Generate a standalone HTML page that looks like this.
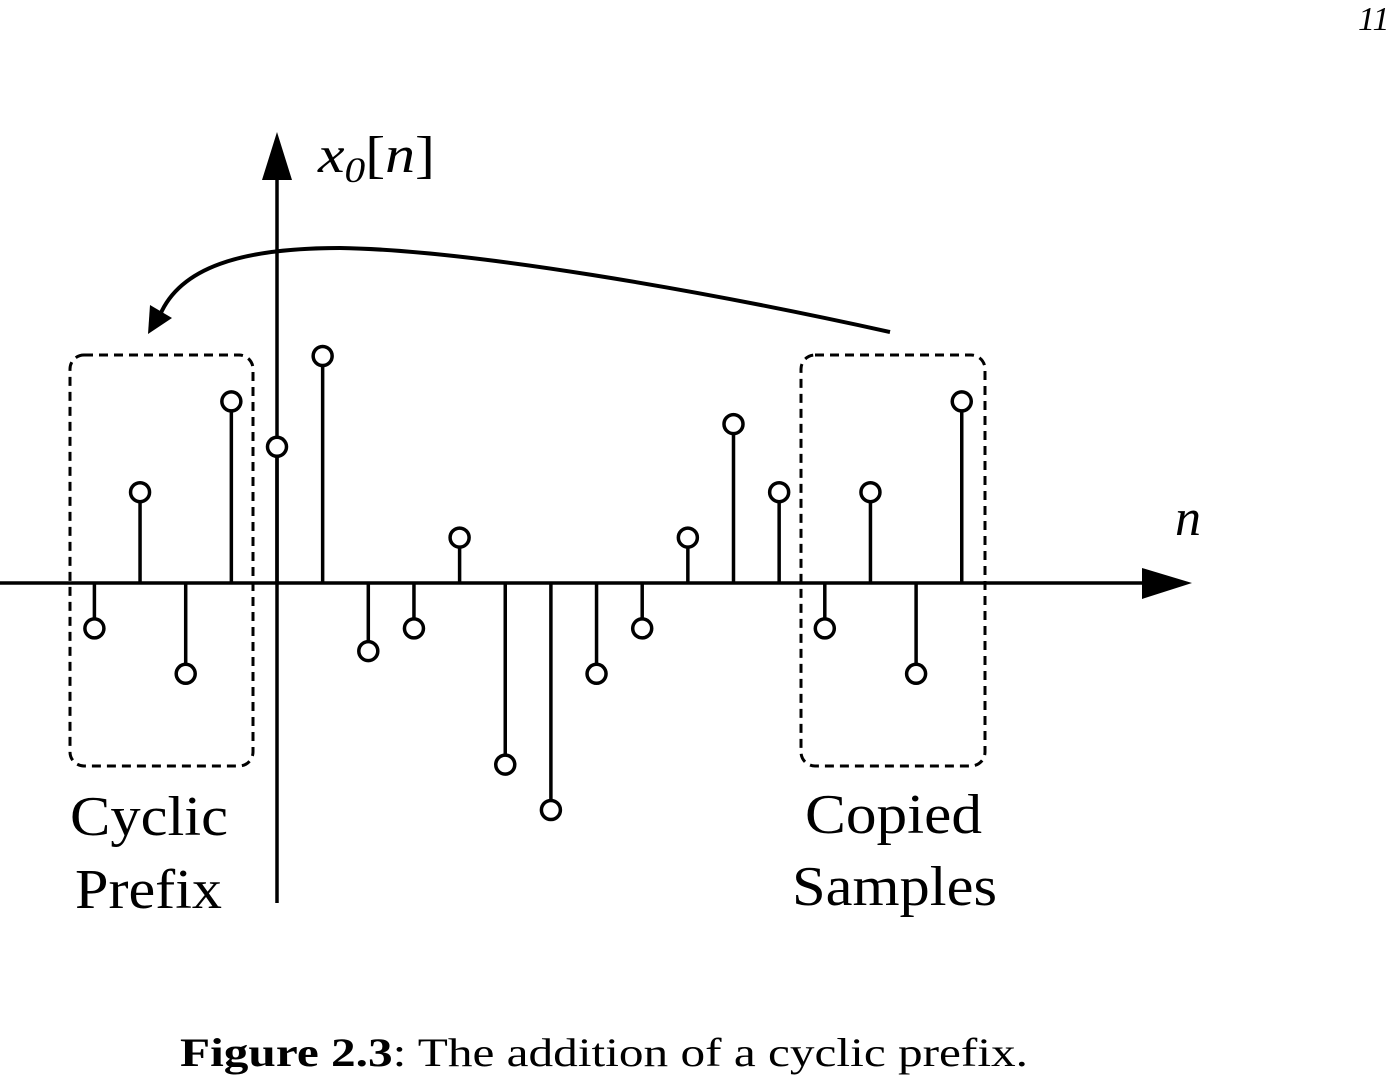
<!DOCTYPE html>
<html><head><meta charset="utf-8"><style>
html,body{margin:0;padding:0;background:#fff;}
svg{display:block;}
text{font-family:"Liberation Serif",serif;fill:#000;}
</style></head><body>
<svg width="1396" height="1076" viewBox="0 0 1396 1076">
<text x="1358" y="30" font-size="34" font-style="italic">11</text>
<g id="axes">
<line x1="0" y1="583" x2="1150" y2="583" stroke="#000" stroke-width="3.5"/>
<polygon points="1142,568 1192,583 1142,599" fill="#000"/>
<line x1="277" y1="175" x2="277" y2="903" stroke="#000" stroke-width="3.5"/>
<polygon points="262,180 277,132 292,180" fill="#000"/>
</g>
<text x="318" y="172" font-size="52" font-style="italic" textLength="117" lengthAdjust="spacingAndGlyphs">x<tspan font-size="36" dy="10">0</tspan><tspan dy="-10" font-style="normal">[</tspan>n<tspan font-style="normal">]</tspan></text>
<text x="1175" y="535" font-size="52" font-style="italic">n</text>
<rect x="70" y="355" width="183" height="411" rx="14" fill="none" stroke="#000" stroke-width="3" stroke-dasharray="9,6"/>
<rect x="801" y="355" width="184" height="411" rx="14" fill="none" stroke="#000" stroke-width="3" stroke-dasharray="9,6"/>
<path d="M890,332 C700,290 470,250 340,248 C240,248 180,268 160,315" fill="none" stroke="#000" stroke-width="4"/>
<polygon points="148,334 150,305 172,318" fill="#000"/>
<g id="stems"></g>
<text x="70" y="835" font-size="56" textLength="158" lengthAdjust="spacingAndGlyphs">Cyclic</text>
<text x="75" y="908" font-size="56" textLength="147" lengthAdjust="spacingAndGlyphs">Prefix</text>
<text x="805" y="833" font-size="56" textLength="177" lengthAdjust="spacingAndGlyphs">Copied</text>
<text x="792" y="905" font-size="56" textLength="205" lengthAdjust="spacingAndGlyphs">Samples</text>
<text x="180" y="1066" font-size="40" textLength="848" lengthAdjust="spacingAndGlyphs"><tspan font-weight="bold">Figure 2.3</tspan>: The addition of a cyclic prefix.</text>
</svg>
<script>
const sampleIndex = [-4,-3,-2,-1,0,1,2,3,4,5,6,7,8,9,10,11,12,13,14,15];
const sampleValues = [-1,2,-2,4,3,5,-1.5,-1,1,-4,-5,-2,-1,1,3.5,2,-1,2,-2,4];
function xScale(n){return 277 + n*45.65;}
function yScale(v){return 583 - v*45.4;}
const ns='http://www.w3.org/2000/svg';
const g=document.getElementById('stems');
sampleIndex.forEach((n,i)=>{
  const x=xScale(n), y=yScale(sampleValues[i]);
  const r=9.5, dir = y<583 ? 1 : -1;
  const l=document.createElementNS(ns,'line');
  l.setAttribute('x1',x);l.setAttribute('x2',x);l.setAttribute('y1',583);l.setAttribute('y2',y+dir*r);
  l.setAttribute('stroke','#000');l.setAttribute('stroke-width','3.5');
  
  
  g.appendChild(l);
  const c=document.createElementNS(ns,'circle');
  c.setAttribute('cx',x);c.setAttribute('cy',y);c.setAttribute('r',r);
  c.setAttribute('fill','#fff');c.setAttribute('stroke','#000');c.setAttribute('stroke-width','3.5');
  
  
  g.appendChild(c);
});
</script>
</body></html>
